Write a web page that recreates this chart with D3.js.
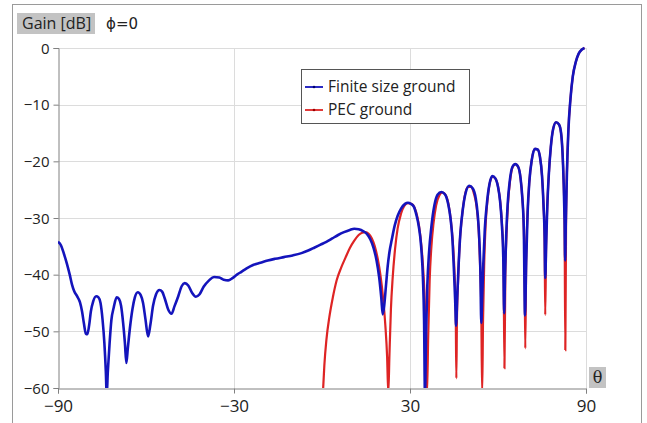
<!DOCTYPE html>
<html>
<head>
<meta charset="utf-8">
<script src="https://cdn.jsdelivr.net/npm/d3@7"></script>
<style>
  body { margin: 0; background: #fff; }
  text { font-family: "Open Sans", "Noto Sans", sans-serif; fill: #222; }
</style>
</head>
<body>
<div id="chart"></div>
<script>
// Finite size ground (blue)
const thetaFinite = [-90, -89, -88, -87, -86, -85.2, -84.5, -83.5, -82.5, -81.8, -81.2, -80.5, -80, -79.4, -78.8, -78, -77, -76.2, -75.5, -74.8, -74.2, -73.7, -73.4, -73, -72.4, -71.8, -71, -70, -69.2, -68.5, -67.8, -67.2, -66.7, -66.2, -65.5, -64.6, -63.8, -62.8, -61.8, -61, -60.2, -59.3, -58.5, -57.6, -56.6, -55.4, -54.5, -53.6, -52.4, -51.3, -50.3, -49, -47.8, -46.8, -45.6, -44.3, -43, -41.8, -40.3, -38.5, -36.8, -35, -33.5, -32, -30.5, -29, -27.5, -25.7, -23.5, -21, -18.5, -16, -13, -10, -7, -4.5, -2.5, -0.5, 1.5, 3.5, 5.5, 7.5, 9.5, 11, 12.5, 14, 15.3, 16.5, 17.6, 18.6, 19.5, 20.2, 20.7, 21.2, 21.8, 22.4, 23, 23.8, 24.8, 25.8, 27, 28.3, 29.3, 30.3, 31.3, 32.2, 33, 33.8, 34.4, 34.8, 35.1, 35.5, 35.9, 36.5, 37.3, 38.3, 39.4, 40.7, 41.9, 43, 43.8, 44.5, 45, 45.4, 45.7, 46.1, 46.6, 47.2, 48, 49, 50.2, 51.4, 52.4, 53.1, 53.6, 54, 54.3, 54.6, 55, 55.5, 56.2, 57.1, 58.1, 59.1, 60, 60.7, 61.3, 61.8, 62.1, 62.4, 62.8, 63.3, 64, 64.9, 65.9, 66.9, 67.7, 68.3, 68.8, 69.2, 69.6, 70.1, 70.7, 71.5, 72.6, 73.5, 74.3, 75, 75.5, 75.9, 76.1, 76.4, 76.8, 77.3, 78, 78.8, 79.8, 80.8, 81.5, 82, 82.4, 82.7, 82.9, 83.1, 83.5, 84, 84.7, 85.5, 86.5, 87.5, 88.5, 89.5];
const gainFinite = [-34.2, -34.8, -36.3, -38, -40, -41.8, -42.9, -43.8, -44.9, -46.5, -48.5, -50.4, -50.5, -49, -46.5, -44.7, -43.8, -44, -45, -48, -52, -57, -61, -57, -52, -48, -45.8, -44, -44.3, -45.5, -48.5, -52, -55.6, -53, -49.5, -46, -44, -43.1, -43.6, -45, -47.8, -50.9, -48.8, -45.5, -43.5, -42.7, -43, -44.2, -46.2, -46.9, -45.6, -43.8, -42, -41.5, -41.9, -43.2, -43.9, -43.5, -42.1, -41, -40.4, -40.5, -40.9, -41, -40.6, -40, -39.5, -38.9, -38.3, -37.9, -37.5, -37.2, -36.9, -36.6, -36.2, -35.7, -35.2, -34.7, -34.2, -33.6, -33, -32.5, -32.1, -31.9, -32, -32.3, -32.8, -33.8, -35.3, -37.5, -40.5, -44, -47, -45.5, -42, -38.5, -36, -33.8, -31.3, -29.6, -28.3, -27.5, -27.3, -27.5, -28, -29.5, -31.5, -35, -40.5, -48, -61, -50, -42, -36, -31.5, -27.8, -25.9, -25.4, -25.8, -27.5, -30, -34, -39.5, -44.5, -49, -44, -38, -32.5, -28.5, -25.5, -24.3, -24.8, -26.5, -29.5, -33.5, -39.5, -48.5, -44, -38, -32, -27.5, -24, -22.6, -23, -24.5, -27, -31, -37, -46.8, -40, -33, -27.5, -23.5, -21, -20.5, -21, -23, -26.5, -32, -47.2, -38, -29, -23.5, -19.8, -17.8, -17.9, -19.2, -22.5, -27.5, -33.5, -40.6, -35, -28, -22.5, -17.5, -14.3, -13.1, -13.5, -15, -18.5, -24, -30.5, -37.5, -31, -22, -14.5, -9, -5, -2.5, -1, -0.3, 0];

// PEC ground (red)
const thetaPec = [0.3, 0.8, 1.5, 2.5, 3.7, 5, 6.5, 8, 9.5, 11, 12.5, 13.7, 14.8, 15.9, 17, 18, 19, 19.9, 20.8, 21.6, 22.2, 22.6, 23, 23.5, 24.1, 24.9, 25.8, 26.9, 28, 29.3, 30.5, 31.6, 32.6, 33.5, 34.3, 34.9, 35.4, 35.8, 36.2, 36.7, 37.3, 38, 38.9, 40, 41.1, 42.2, 43.2, 44, 44.7, 45.2, 45.6, 45.8, 46, 46.4, 47, 47.6, 48.6, 49.8, 50.8, 51.8, 52.7, 53.4, 53.9, 54.3, 54.6, 54.9, 55.3, 55.8, 56.5, 57.3, 58.2, 59.2, 60.1, 60.8, 61.4, 61.9, 62.2, 62.5, 62.9, 63.4, 64.1, 65, 65.9, 66.9, 67.7, 68.3, 68.8, 69.1, 69.3, 69.6, 70.1, 70.7, 71.5, 72.6, 73.5, 74.3, 75, 75.5, 75.9, 76.1, 76.4, 76.8, 77.3, 78, 78.8, 79.8, 80.8, 81.5, 82, 82.4, 82.7, 82.95, 83.2, 83.5, 84, 84.7, 85.5, 86.5, 87.5, 88.5, 89.5];
const gainPec = [-61, -56, -51.5, -47.5, -44, -41, -38.8, -37, -35.3, -34, -33, -32.6, -32.5, -32.8, -33.6, -35, -37.2, -40, -44, -49, -54.5, -61, -54, -46, -40.5, -35.5, -31.8, -29.3, -27.9, -27.4, -27.5, -28.2, -30, -33, -37.5, -43, -51, -61, -51, -41, -35, -31, -27.8, -26, -25.5, -26, -27.8, -30.8, -35, -40, -47, -58.3, -48, -41, -34, -30.4, -26.3, -24.5, -24.5, -25.7, -28, -32, -38.5, -46, -61, -48, -38, -31, -26.5, -23.6, -22.7, -23.1, -24.7, -27.3, -31.5, -38.5, -56.5, -40, -33, -27.5, -23.5, -21, -20.5, -21, -23, -26.5, -32, -40, -53, -38, -29, -23.5, -19.8, -17.8, -17.9, -19.2, -22.5, -27.5, -34, -47.1, -35, -28, -22.5, -17.5, -14.3, -13.1, -13.5, -15, -18.5, -24, -31, -53.3, -31, -22, -14.5, -9, -5, -2.5, -1, -0.3, 0];

const xTicks = [-90, -30, 30, 90];
const yTicks = [0, -10, -20, -30, -40, -50, -60];
const seriesNames = ["Finite size ground", "PEC ground"];

const W = 647, H = 423;
const plot = { left: 58, right: 586, top: 48, bottom: 388 };

const svg = d3.select("#chart").append("svg")
  .attr("width", W)
  .attr("height", H);

// outer frame
svg.append("rect")
  .attr("x", 12.5).attr("y", 4.5)
  .attr("width", 629).attr("height", 440)
  .attr("fill", "none")
  .attr("stroke", "#9a9a9a");

const x = d3.scaleLinear().domain([-90, 90]).range([plot.left, plot.right]);
const y = d3.scaleLinear().domain([-60, 0]).range([plot.bottom, plot.top]);

// grid
svg.append("g")
  .selectAll("line.hgrid")
  .data(yTicks.filter(d => d > -60))
  .enter().append("line")
  .attr("x1", plot.left).attr("x2", plot.right)
  .attr("y1", d => Math.round(y(d)) + 0.5).attr("y2", d => Math.round(y(d)) + 0.5)
  .attr("stroke", "#dcdcdc");

svg.append("g")
  .selectAll("line.vgrid")
  .data(xTicks.filter(d => d > -90))
  .enter().append("line")
  .attr("y1", plot.top).attr("y2", plot.bottom)
  .attr("x1", d => Math.round(x(d)) + 0.5).attr("x2", d => Math.round(x(d)) + 0.5)
  .attr("stroke", "#dcdcdc");

// axes
const yAxis = svg.append("g")
  .attr("transform", `translate(${plot.left + 0.5},0)`)
  .call(d3.axisLeft(y).tickValues(yTicks).tickSize(5).tickPadding(4).tickFormat(d3.format("d")));

const xAxis = svg.append("g")
  .attr("transform", `translate(0,${plot.bottom + 0.5})`)
  .call(d3.axisBottom(x).tickValues(xTicks).tickSize(5).tickPadding(6).tickFormat(d3.format("d")));

[yAxis, xAxis].forEach(a => {
  a.select(".domain").attr("stroke", "#808080");
  a.selectAll(".tick line").attr("stroke", "#808080");
  a.selectAll("text").attr("fill", "#222")
    .style("font-family", "'Open Sans', sans-serif");
});
yAxis.selectAll("text").style("font-size", "15px").attr("dy", "0.34em");
xAxis.selectAll("text").style("font-size", "17px");

// lines
svg.append("clipPath").attr("id", "clip")
  .append("rect")
  .attr("x", plot.left).attr("y", 0)
  .attr("width", plot.right - plot.left + 10)
  .attr("height", plot.bottom);

const line = d3.line()
  .x(d => x(d[0]))
  .y(d => y(d[1]))
  .curve(d3.curveMonotoneX);

const finite = thetaFinite.map((t, i) => [t, gainFinite[i]]);
const pec = thetaPec.map((t, i) => [t, gainPec[i]]);

const lines = svg.append("g").attr("clip-path", "url(#clip)");

lines.append("path")
  .datum(pec)
  .attr("fill", "none")
  .attr("stroke", "#de2424")
  .attr("stroke-width", 2.2)
  .attr("d", line);

lines.append("path")
  .datum(finite)
  .attr("fill", "none")
  .attr("stroke", "#1414bc")
  .attr("stroke-width", 2.6)
  .attr("stroke-linejoin", "round")
  .attr("d", line);

// labels
svg.append("rect")
  .attr("x", 17).attr("y", 13)
  .attr("width", 78).attr("height", 21)
  .attr("fill", "#c3c3c3");

svg.append("text")
  .attr("x", 22).attr("y", 29)
  .style("font-size", "16px")
  .text("Gain [dB]");

svg.append("text")
  .attr("x", 106).attr("y", 29)
  .style("font-family", "'DejaVu Sans', sans-serif")
  .style("font-size", "15px")
  .text("\u03D5=0");

svg.append("rect")
  .attr("x", 589).attr("y", 367)
  .attr("width", 17).attr("height", 21)
  .attr("fill", "#c3c3c3");

svg.append("text")
  .attr("x", 597.5).attr("y", 383)
  .attr("text-anchor", "middle")
  .style("font-family", "'DejaVu Serif', serif")
  .style("font-size", "16px")
  .text("θ");

// legend
const legend = svg.append("g");
legend.append("rect")
  .attr("x", 301.5).attr("y", 69.5)
  .attr("width", 168).attr("height", 54)
  .attr("fill", "#fff")
  .attr("stroke", "#555");

const legendColors = ["#1414bc", "#de2424"];
seriesNames.forEach((name, i) => {
  const ly = 87 + i * 23;
  legend.append("line")
    .attr("x1", 305).attr("x2", 323)
    .attr("y1", ly).attr("y2", ly)
    .attr("stroke", legendColors[i])
    .attr("stroke-width", 1.8);
  legend.append("circle")
    .attr("cx", 314).attr("cy", ly).attr("r", 1.3)
    .attr("fill", i === 0 ? "#000070" : "#900");
  legend.append("text")
    .attr("x", 328).attr("y", ly + 5)
    .style("font-size", "15.5px")
    .text(name);
});
</script>
</body>
</html>
